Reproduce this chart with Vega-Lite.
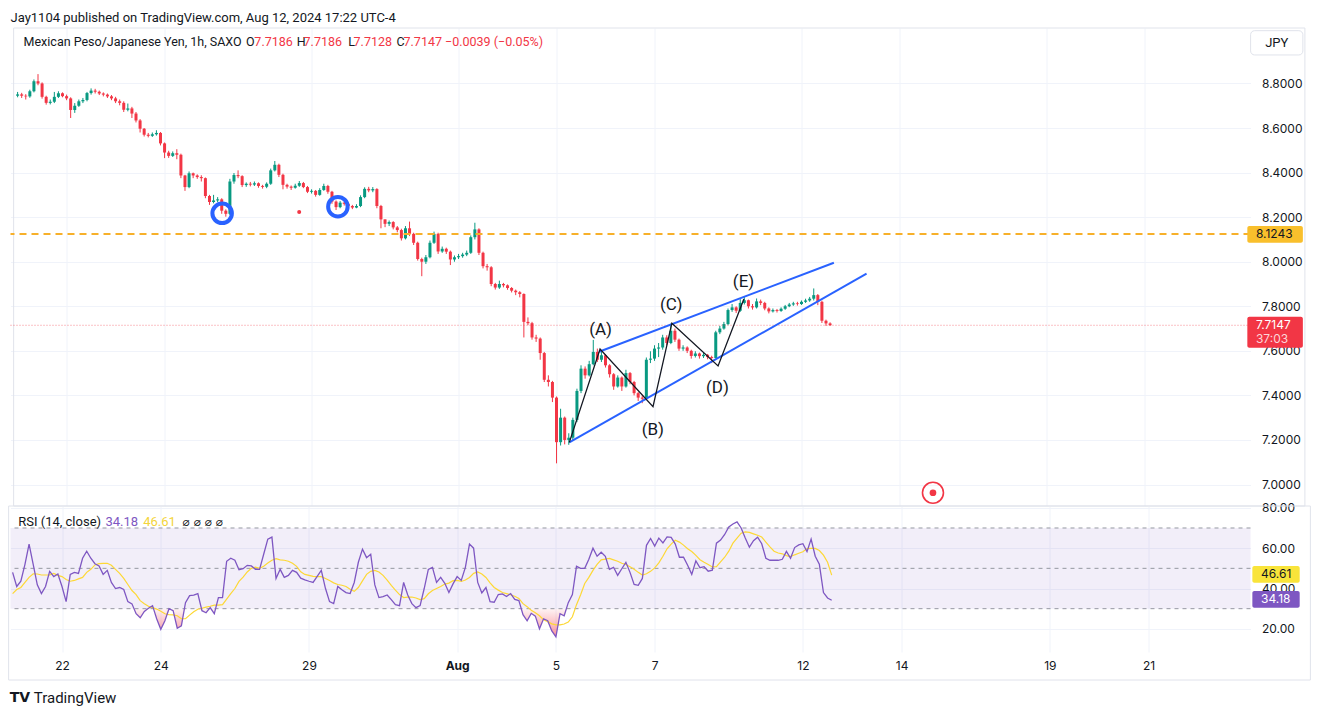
{
"$schema": "https://vega.github.io/schema/vega-lite/v6.json",
"background": "#ffffff",
"padding": {"left": 7.5, "top": 11, "right": 0, "bottom": 0},
"title": {"text": "Jay1104 published on TradingView.com, Aug 12, 2024 17:22 UTC-4", "anchor": "start", "frame": "group", "fontSize": 13, "fontWeight": "normal", "font": "Roboto", "color": "#131722", "offset": 3},
"spacing": 0,
"bounds": "flush",
"config": {
 "view": {"stroke": null},
 "text": {"font": "Roboto"},
 "axis": {"labelFont": "Inter", "labelFontSize": 12, "labelColor": "#131722", "gridColor": "#f0f3fa", "gridWidth": 1, "domain": false, "ticks": false, "labelOverlap": false, "labelFlush": false}
},
"datasets": {
"c": [
{"k":0,"o":8.745,"h":8.762,"l":8.738,"c":8.751,"r":48,"m":37.5},
{"k":1,"o":8.751,"h":8.758,"l":8.735,"c":8.745,"r":41,"m":39.5},
{"k":2,"o":8.745,"h":8.752,"l":8.728,"c":8.742,"r":43.6,"m":40.5},
{"k":3,"o":8.742,"h":8.772,"l":8.736,"c":8.765,"r":52,"m":43},
{"k":4,"o":8.765,"h":8.818,"l":8.76,"c":8.81,"r":62,"m":45.5},
{"k":5,"o":8.81,"h":8.842,"l":8.792,"c":8.8,"r":52,"m":47.3},
{"k":6,"o":8.8,"h":8.805,"l":8.732,"c":8.74,"r":41.8,"m":47.2},
{"k":7,"o":8.74,"h":8.745,"l":8.705,"c":8.713,"r":37.5,"m":46.7},
{"k":8,"o":8.713,"h":8.728,"l":8.706,"c":8.718,"r":41,"m":46.7},
{"k":9,"o":8.718,"h":8.762,"l":8.712,"c":8.74,"r":48.5,"m":46.8},
{"k":10,"o":8.74,"h":8.765,"l":8.735,"c":8.756,"r":45.9,"m":47.5},
{"k":11,"o":8.756,"h":8.76,"l":8.738,"c":8.743,"r":47.2,"m":46.5},
{"k":12,"o":8.743,"h":8.75,"l":8.725,"c":8.733,"r":41,"m":45.9},
{"k":13,"o":8.733,"h":8.738,"l":8.645,"c":8.681,"r":33.5,"m":44.5},
{"k":14,"o":8.681,"h":8.712,"l":8.668,"c":8.7,"r":47,"m":43.6},
{"k":15,"o":8.7,"h":8.728,"l":8.695,"c":8.72,"r":48,"m":44},
{"k":16,"o":8.72,"h":8.735,"l":8.712,"c":8.726,"r":47.5,"m":44.8},
{"k":17,"o":8.726,"h":8.762,"l":8.72,"c":8.757,"r":55,"m":45.5},
{"k":18,"o":8.757,"h":8.778,"l":8.75,"c":8.768,"r":58.5,"m":48},
{"k":19,"o":8.768,"h":8.776,"l":8.755,"c":8.763,"r":55,"m":49.5},
{"k":20,"o":8.763,"h":8.768,"l":8.748,"c":8.755,"r":52.3,"m":51.7},
{"k":21,"o":8.755,"h":8.76,"l":8.742,"c":8.75,"r":51.2,"m":52.3},
{"k":22,"o":8.75,"h":8.755,"l":8.735,"c":8.742,"r":47,"m":52.5},
{"k":23,"o":8.742,"h":8.748,"l":8.725,"c":8.733,"r":49,"m":52.5},
{"k":24,"o":8.733,"h":8.74,"l":8.712,"c":8.72,"r":43,"m":51.5},
{"k":25,"o":8.72,"h":8.728,"l":8.702,"c":8.713,"r":40,"m":49.5},
{"k":26,"o":8.713,"h":8.72,"l":8.672,"c":8.682,"r":40.5,"m":47.5},
{"k":27,"o":8.682,"h":8.71,"l":8.675,"c":8.688,"r":39.5,"m":45},
{"k":28,"o":8.688,"h":8.695,"l":8.645,"c":8.665,"r":33.5,"m":42},
{"k":29,"o":8.665,"h":8.672,"l":8.625,"c":8.634,"r":32.4,"m":39},
{"k":30,"o":8.634,"h":8.64,"l":8.58,"c":8.597,"r":27.5,"m":37},
{"k":31,"o":8.597,"h":8.6,"l":8.562,"c":8.57,"r":25.5,"m":34},
{"k":32,"o":8.57,"h":8.578,"l":8.558,"c":8.565,"r":28.6,"m":32.5},
{"k":33,"o":8.565,"h":8.58,"l":8.56,"c":8.572,"r":30.2,"m":31.2},
{"k":34,"o":8.572,"h":8.59,"l":8.566,"c":8.578,"r":31.5,"m":30.5},
{"k":35,"o":8.578,"h":8.582,"l":8.522,"c":8.531,"r":25,"m":29.8},
{"k":36,"o":8.531,"h":8.535,"l":8.465,"c":8.49,"r":19.8,"m":28.7},
{"k":37,"o":8.49,"h":8.498,"l":8.466,"c":8.475,"r":24,"m":27.5},
{"k":38,"o":8.475,"h":8.495,"l":8.47,"c":8.487,"r":30,"m":27},
{"k":39,"o":8.487,"h":8.505,"l":8.46,"c":8.48,"r":29,"m":26.9},
{"k":40,"o":8.48,"h":8.485,"l":8.375,"c":8.387,"r":20.3,"m":26.5},
{"k":41,"o":8.387,"h":8.39,"l":8.318,"c":8.335,"r":21.5,"m":25},
{"k":42,"o":8.335,"h":8.405,"l":8.33,"c":8.397,"r":33,"m":25},
{"k":43,"o":8.397,"h":8.4,"l":8.375,"c":8.387,"r":36.5,"m":26.8},
{"k":44,"o":8.387,"h":8.392,"l":8.372,"c":8.38,"r":36.7,"m":28.5},
{"k":45,"o":8.38,"h":8.388,"l":8.36,"c":8.375,"r":37.5,"m":29.7},
{"k":46,"o":8.375,"h":8.378,"l":8.285,"c":8.295,"r":29,"m":30.2},
{"k":47,"o":8.295,"h":8.3,"l":8.255,"c":8.268,"r":28,"m":30.8},
{"k":48,"o":8.268,"h":8.3,"l":8.262,"c":8.275,"r":30.5,"m":31.2},
{"k":49,"o":8.275,"h":8.29,"l":8.268,"c":8.28,"r":27.5,"m":31.8},
{"k":50,"o":8.28,"h":8.285,"l":8.215,"c":8.229,"r":35.5,"m":31.8},
{"k":51,"o":8.229,"h":8.235,"l":8.202,"c":8.215,"r":35.5,"m":32},
{"k":52,"o":8.215,"h":8.372,"l":8.21,"c":8.36,"r":53.5,"m":34.7},
{"k":53,"o":8.36,"h":8.398,"l":8.35,"c":8.389,"r":55,"m":37.5},
{"k":54,"o":8.389,"h":8.41,"l":8.375,"c":8.384,"r":54,"m":40},
{"k":55,"o":8.384,"h":8.388,"l":8.335,"c":8.344,"r":49.3,"m":43.5},
{"k":56,"o":8.344,"h":8.356,"l":8.336,"c":8.35,"r":49.8,"m":45.6},
{"k":57,"o":8.35,"h":8.358,"l":8.338,"c":8.346,"r":51.5,"m":48.2},
{"k":58,"o":8.346,"h":8.36,"l":8.34,"c":8.352,"r":51.2,"m":50},
{"k":59,"o":8.352,"h":8.356,"l":8.332,"c":8.34,"r":49.5,"m":50.6},
{"k":60,"o":8.34,"h":8.345,"l":8.328,"c":8.336,"r":49.5,"m":50},
{"k":61,"o":8.336,"h":8.356,"l":8.33,"c":8.35,"r":57,"m":51},
{"k":62,"o":8.35,"h":8.418,"l":8.345,"c":8.41,"r":64.5,"m":52.6},
{"k":63,"o":8.41,"h":8.452,"l":8.405,"c":8.435,"r":65.5,"m":54},
{"k":64,"o":8.435,"h":8.44,"l":8.38,"c":8.39,"r":45,"m":54.8},
{"k":65,"o":8.39,"h":8.395,"l":8.325,"c":8.345,"r":49.5,"m":54.2},
{"k":66,"o":8.345,"h":8.35,"l":8.328,"c":8.337,"r":45.5,"m":54},
{"k":67,"o":8.337,"h":8.342,"l":8.322,"c":8.332,"r":46.5,"m":53.5},
{"k":68,"o":8.332,"h":8.35,"l":8.328,"c":8.341,"r":49,"m":52.5},
{"k":69,"o":8.341,"h":8.362,"l":8.336,"c":8.353,"r":48,"m":51},
{"k":70,"o":8.353,"h":8.358,"l":8.33,"c":8.335,"r":45.1,"m":48.3},
{"k":71,"o":8.335,"h":8.34,"l":8.308,"c":8.314,"r":44.3,"m":47},
{"k":72,"o":8.314,"h":8.325,"l":8.306,"c":8.318,"r":43.6,"m":46.5},
{"k":73,"o":8.318,"h":8.322,"l":8.292,"c":8.3,"r":43,"m":46},
{"k":74,"o":8.3,"h":8.33,"l":8.296,"c":8.322,"r":46,"m":45.9},
{"k":75,"o":8.322,"h":8.35,"l":8.318,"c":8.34,"r":49,"m":45.9},
{"k":76,"o":8.34,"h":8.345,"l":8.305,"c":8.314,"r":40.1,"m":45},
{"k":77,"o":8.314,"h":8.318,"l":8.26,"c":8.27,"r":33.5,"m":44},
{"k":78,"o":8.27,"h":8.275,"l":8.232,"c":8.245,"r":32.5,"m":42.8},
{"k":79,"o":8.245,"h":8.272,"l":8.24,"c":8.265,"r":41,"m":42},
{"k":80,"o":8.265,"h":8.27,"l":8.252,"c":8.26,"r":39.4,"m":41.6},
{"k":81,"o":8.26,"h":8.265,"l":8.242,"c":8.25,"r":38,"m":41},
{"k":82,"o":8.25,"h":8.255,"l":8.236,"c":8.243,"r":37.5,"m":39.6},
{"k":83,"o":8.243,"h":8.258,"l":8.24,"c":8.25,"r":43,"m":38.6},
{"k":84,"o":8.25,"h":8.298,"l":8.245,"c":8.29,"r":53,"m":40.5},
{"k":85,"o":8.29,"h":8.334,"l":8.285,"c":8.327,"r":59.5,"m":43.8},
{"k":86,"o":8.327,"h":8.336,"l":8.312,"c":8.32,"r":55.3,"m":47},
{"k":87,"o":8.32,"h":8.335,"l":8.312,"c":8.326,"r":57,"m":48.5},
{"k":88,"o":8.326,"h":8.33,"l":8.24,"c":8.25,"r":41.8,"m":49},
{"k":89,"o":8.25,"h":8.255,"l":8.15,"c":8.19,"r":35.5,"m":48.2},
{"k":90,"o":8.19,"h":8.19,"l":8.155,"c":8.17,"r":36,"m":46.5},
{"k":91,"o":8.17,"h":8.185,"l":8.16,"c":8.178,"r":36.8,"m":44.2},
{"k":92,"o":8.178,"h":8.182,"l":8.145,"c":8.154,"r":34.5,"m":41.5},
{"k":93,"o":8.154,"h":8.16,"l":8.132,"c":8.142,"r":32,"m":39.2},
{"k":94,"o":8.142,"h":8.148,"l":8.095,"c":8.105,"r":31.5,"m":37},
{"k":95,"o":8.105,"h":8.16,"l":8.1,"c":8.15,"r":43,"m":35.5},
{"k":96,"o":8.15,"h":8.18,"l":8.115,"c":8.125,"r":36.8,"m":35.7},
{"k":97,"o":8.125,"h":8.13,"l":8.075,"c":8.085,"r":32.5,"m":35.8},
{"k":98,"o":8.085,"h":8.09,"l":8.005,"c":8.012,"r":30.5,"m":35.3},
{"k":99,"o":8.012,"h":8.018,"l":7.935,"c":8.0,"r":31.5,"m":34.5},
{"k":100,"o":8.0,"h":8.03,"l":7.99,"c":8.02,"r":40,"m":35},
{"k":101,"o":8.02,"h":8.095,"l":8.015,"c":8.085,"r":49.5,"m":37.4},
{"k":102,"o":8.085,"h":8.135,"l":8.08,"c":8.125,"r":50.5,"m":39},
{"k":103,"o":8.125,"h":8.13,"l":8.035,"c":8.046,"r":43,"m":40},
{"k":104,"o":8.046,"h":8.068,"l":8.04,"c":8.058,"r":45.5,"m":41},
{"k":105,"o":8.058,"h":8.063,"l":8.035,"c":8.045,"r":42.6,"m":42.2},
{"k":106,"o":8.045,"h":8.05,"l":7.985,"c":8.01,"r":38,"m":42.7},
{"k":107,"o":8.01,"h":8.028,"l":8.0,"c":8.02,"r":42.3,"m":43.9},
{"k":108,"o":8.02,"h":8.035,"l":8.012,"c":8.025,"r":45.9,"m":44},
{"k":109,"o":8.025,"h":8.04,"l":8.018,"c":8.032,"r":44,"m":43.5},
{"k":110,"o":8.032,"h":8.05,"l":8.025,"c":8.04,"r":50.5,"m":44.2},
{"k":111,"o":8.04,"h":8.118,"l":8.035,"c":8.11,"r":62,"m":45.5},
{"k":112,"o":8.11,"h":8.175,"l":8.1,"c":8.145,"r":60,"m":47.5},
{"k":113,"o":8.145,"h":8.15,"l":8.03,"c":8.04,"r":43,"m":48.2},
{"k":114,"o":8.04,"h":8.045,"l":7.97,"c":7.98,"r":37.8,"m":47.2},
{"k":115,"o":7.98,"h":7.99,"l":7.96,"c":7.975,"r":40.5,"m":45.5},
{"k":116,"o":7.975,"h":7.98,"l":7.89,"c":7.9,"r":33.5,"m":42.8},
{"k":117,"o":7.9,"h":7.905,"l":7.875,"c":7.884,"r":33.2,"m":40.5},
{"k":118,"o":7.884,"h":7.915,"l":7.878,"c":7.9,"r":37,"m":39.2},
{"k":119,"o":7.9,"h":7.905,"l":7.885,"c":7.894,"r":37.3,"m":38},
{"k":120,"o":7.894,"h":7.898,"l":7.874,"c":7.882,"r":36,"m":37.5},
{"k":121,"o":7.882,"h":7.886,"l":7.862,"c":7.87,"r":37.5,"m":36.9},
{"k":122,"o":7.87,"h":7.875,"l":7.85,"c":7.863,"r":34.6,"m":36.2},
{"k":123,"o":7.863,"h":7.868,"l":7.84,"c":7.855,"r":34,"m":35.1},
{"k":124,"o":7.855,"h":7.858,"l":7.66,"c":7.73,"r":27,"m":32.5},
{"k":125,"o":7.73,"h":7.75,"l":7.715,"c":7.724,"r":24,"m":31},
{"k":126,"o":7.724,"h":7.73,"l":7.65,"c":7.66,"r":27.7,"m":29.2},
{"k":127,"o":7.66,"h":7.672,"l":7.64,"c":7.655,"r":26.3,"m":28},
{"k":128,"o":7.655,"h":7.66,"l":7.56,"c":7.59,"r":20,"m":26.5},
{"k":129,"o":7.59,"h":7.595,"l":7.46,"c":7.47,"r":25,"m":24.5},
{"k":130,"o":7.47,"h":7.49,"l":7.44,"c":7.46,"r":24,"m":23.6},
{"k":131,"o":7.46,"h":7.465,"l":7.37,"c":7.39,"r":19,"m":22.5},
{"k":132,"o":7.39,"h":7.395,"l":7.095,"c":7.19,"r":16,"m":22},
{"k":133,"o":7.19,"h":7.34,"l":7.175,"c":7.3,"r":27.5,"m":22},
{"k":134,"o":7.3,"h":7.305,"l":7.18,"c":7.2,"r":26.5,"m":22.4},
{"k":135,"o":7.2,"h":7.23,"l":7.178,"c":7.21,"r":33,"m":23.4},
{"k":136,"o":7.21,"h":7.3,"l":7.2,"c":7.29,"r":37,"m":26},
{"k":137,"o":7.29,"h":7.43,"l":7.28,"c":7.42,"r":51,"m":32},
{"k":138,"o":7.42,"h":7.535,"l":7.41,"c":7.52,"r":50,"m":36.9},
{"k":139,"o":7.52,"h":7.53,"l":7.475,"c":7.49,"r":50,"m":42.5},
{"k":140,"o":7.49,"h":7.555,"l":7.485,"c":7.54,"r":54.5,"m":45.5},
{"k":141,"o":7.54,"h":7.649,"l":7.535,"c":7.595,"r":60,"m":49},
{"k":142,"o":7.595,"h":7.61,"l":7.55,"c":7.56,"r":56,"m":52},
{"k":143,"o":7.56,"h":7.598,"l":7.55,"c":7.58,"r":58,"m":54.2},
{"k":144,"o":7.58,"h":7.585,"l":7.525,"c":7.535,"r":56,"m":54.6},
{"k":145,"o":7.535,"h":7.54,"l":7.48,"c":7.495,"r":49.5,"m":54.9},
{"k":146,"o":7.495,"h":7.5,"l":7.425,"c":7.44,"r":50.5,"m":54.2},
{"k":147,"o":7.44,"h":7.49,"l":7.435,"c":7.48,"r":46.5,"m":53.5},
{"k":148,"o":7.48,"h":7.485,"l":7.42,"c":7.44,"r":49.8,"m":52.5},
{"k":149,"o":7.44,"h":7.515,"l":7.435,"c":7.5,"r":53,"m":51.9},
{"k":150,"o":7.5,"h":7.505,"l":7.45,"c":7.46,"r":48,"m":50.8},
{"k":151,"o":7.46,"h":7.465,"l":7.4,"c":7.41,"r":42,"m":49.5},
{"k":152,"o":7.41,"h":7.415,"l":7.375,"c":7.39,"r":41.6,"m":48},
{"k":153,"o":7.39,"h":7.4,"l":7.365,"c":7.385,"r":45,"m":46.7},
{"k":154,"o":7.385,"h":7.57,"l":7.38,"c":7.56,"r":61.4,"m":47.3},
{"k":155,"o":7.56,"h":7.598,"l":7.545,"c":7.565,"r":64.8,"m":48.5},
{"k":156,"o":7.565,"h":7.625,"l":7.555,"c":7.61,"r":61,"m":50.2},
{"k":157,"o":7.61,"h":7.635,"l":7.572,"c":7.615,"r":65,"m":52.7},
{"k":158,"o":7.615,"h":7.672,"l":7.605,"c":7.66,"r":62.6,"m":56},
{"k":159,"o":7.66,"h":7.67,"l":7.625,"c":7.635,"r":65.6,"m":59.7},
{"k":160,"o":7.635,"h":7.722,"l":7.63,"c":7.69,"r":65.3,"m":62},
{"k":161,"o":7.69,"h":7.7,"l":7.64,"c":7.65,"r":62,"m":63.9},
{"k":162,"o":7.65,"h":7.655,"l":7.6,"c":7.61,"r":55.5,"m":63},
{"k":163,"o":7.61,"h":7.625,"l":7.6,"c":7.615,"r":55.5,"m":61.5},
{"k":164,"o":7.615,"h":7.62,"l":7.59,"c":7.6,"r":51.5,"m":59.7},
{"k":165,"o":7.6,"h":7.605,"l":7.565,"c":7.577,"r":47,"m":58.3},
{"k":166,"o":7.577,"h":7.598,"l":7.57,"c":7.588,"r":53.7,"m":56.4},
{"k":167,"o":7.588,"h":7.592,"l":7.565,"c":7.576,"r":50.3,"m":54.3},
{"k":168,"o":7.576,"h":7.59,"l":7.568,"c":7.582,"r":50.8,"m":53},
{"k":169,"o":7.582,"h":7.586,"l":7.562,"c":7.572,"r":48.6,"m":51.9},
{"k":170,"o":7.572,"h":7.578,"l":7.545,"c":7.568,"r":49.1,"m":50.7},
{"k":171,"o":7.568,"h":7.69,"l":7.565,"c":7.683,"r":62.5,"m":50.8},
{"k":172,"o":7.683,"h":7.712,"l":7.675,"c":7.7,"r":64,"m":53.2},
{"k":173,"o":7.7,"h":7.73,"l":7.695,"c":7.72,"r":66.8,"m":55.5},
{"k":174,"o":7.72,"h":7.79,"l":7.715,"c":7.783,"r":70.5,"m":58.5},
{"k":175,"o":7.783,"h":7.81,"l":7.775,"c":7.795,"r":72,"m":62.5},
{"k":176,"o":7.795,"h":7.8,"l":7.77,"c":7.78,"r":73,"m":65},
{"k":177,"o":7.78,"h":7.832,"l":7.775,"c":7.815,"r":70,"m":67.4},
{"k":178,"o":7.815,"h":7.842,"l":7.808,"c":7.827,"r":65,"m":68.1},
{"k":179,"o":7.827,"h":7.83,"l":7.79,"c":7.8,"r":60.5,"m":67.8},
{"k":180,"o":7.8,"h":7.81,"l":7.785,"c":7.795,"r":63.7,"m":67.1},
{"k":181,"o":7.795,"h":7.835,"l":7.79,"c":7.822,"r":65.4,"m":66.4},
{"k":182,"o":7.822,"h":7.83,"l":7.805,"c":7.815,"r":62.2,"m":65.5},
{"k":183,"o":7.815,"h":7.82,"l":7.782,"c":7.79,"r":55,"m":63},
{"k":184,"o":7.79,"h":7.795,"l":7.768,"c":7.777,"r":54,"m":60.6},
{"k":185,"o":7.777,"h":7.79,"l":7.772,"c":7.783,"r":54,"m":58.5},
{"k":186,"o":7.783,"h":7.788,"l":7.772,"c":7.779,"r":54,"m":57.6},
{"k":187,"o":7.779,"h":7.795,"l":7.775,"c":7.789,"r":54.5,"m":57.2},
{"k":188,"o":7.789,"h":7.806,"l":7.784,"c":7.8,"r":58.4,"m":56.3},
{"k":189,"o":7.8,"h":7.815,"l":7.796,"c":7.808,"r":55,"m":55.8},
{"k":190,"o":7.808,"h":7.82,"l":7.802,"c":7.813,"r":60.3,"m":56.7},
{"k":191,"o":7.813,"h":7.82,"l":7.803,"c":7.81,"r":61.6,"m":57.5},
{"k":192,"o":7.81,"h":7.826,"l":7.806,"c":7.82,"r":62.2,"m":58.2},
{"k":193,"o":7.82,"h":7.834,"l":7.815,"c":7.826,"r":58.3,"m":59.8},
{"k":194,"o":7.826,"h":7.842,"l":7.82,"c":7.834,"r":64.5,"m":59.9},
{"k":195,"o":7.834,"h":7.88,"l":7.826,"c":7.85,"r":56,"m":59.9},
{"k":196,"o":7.85,"h":7.855,"l":7.805,"c":7.82,"r":52,"m":58.8},
{"k":197,"o":7.82,"h":7.825,"l":7.725,"c":7.735,"r":38,"m":56.5},
{"k":198,"o":7.735,"h":7.74,"l":7.712,"c":7.723,"r":35.3,"m":53},
{"k":199,"o":7.723,"h":7.728,"l":7.7128,"c":7.7147,"r":34.18,"m":46.61}
]
},
"vconcat": [
{
 "width": 1240, "height": 478,
 "data": {"name": "c"},
 "layer": [
  {"mark": {"type": "rule", "strokeWidth": 1},
   "encoding": {
    "x": {"field": "k", "type": "quantitative", "scale": {"domain": [-0.513, 300.75], "nice": false, "zero": false},
          "axis": {"title": null, "labels": false, "grid": true, "minExtent": 0, "maxExtent": 0, "labelPadding": 0, "values": [12, 36, 72, 108, 132, 156, 192, 216, 252, 276]}},
    "y": {"field": "l", "type": "quantitative", "scale": {"domain": [6.9035, 9.049], "nice": false, "zero": false},
          "axis": {"title": null, "orient": "right", "grid": true, "values": [7.0, 7.2, 7.4, 7.6, 7.8, 8.0, 8.2, 8.4, 8.6, 8.8], "format": ".4f", "labelPadding": 11}},
    "y2": {"field": "h"},
    "color": {"condition": {"test": "datum.c >= datum.o", "value": "#089981"}, "value": "#f23645"}
   }},
  {"mark": {"type": "bar", "size": 3},
   "encoding": {
    "x": {"field": "k", "type": "quantitative"},
    "y": {"field": "o", "type": "quantitative"},
    "y2": {"field": "c"},
    "color": {"condition": {"test": "datum.c >= datum.o", "value": "#089981"}, "value": "#f23645"}
   }},
  {"data": {"values": [{}]}, "mark": {"type": "rect", "fillOpacity": 0, "stroke": "#e0e3eb", "strokeWidth": 1},
   "encoding": {"x": {"datum": -0.97, "type": "quantitative"}, "x2": {"datum": 315.3}, "y": {"datum": 9.049, "type": "quantitative"}, "y2": {"datum": 6.9035}}},
  {"data": {"values": [{}]}, "mark": {"type": "rule", "color": "#f7b02a", "strokeWidth": 2, "strokeDash": [7, 5]},
   "encoding": {"y": {"datum": 8.1243, "type": "quantitative"}}},
  {"data": {"values": [{}]}, "mark": {"type": "rule", "color": "#f23645", "strokeWidth": 1, "strokeDash": [1, 2], "opacity": 0.6},
   "encoding": {"y": {"datum": 7.7147, "type": "quantitative"}}},
  {"data": {"values": [{"g": "lo", "k": 135.13, "p": 7.189}, {"g": "lo", "k": 207.94, "p": 7.946}, {"g": "up", "k": 142.42, "p": 7.596}, {"g": "up", "k": 199.93, "p": 7.9955}]},
   "mark": {"type": "line", "color": "#2962ff", "strokeWidth": 2},
   "encoding": {"x": {"field": "k", "type": "quantitative"}, "y": {"field": "p", "type": "quantitative"}, "detail": {"field": "g"}}},
  {"data": {"values": [{"i": 0, "k": 135.13, "p": 7.189}, {"i": 1, "k": 142.66, "p": 7.608}, {"i": 2, "k": 155.63, "p": 7.349}, {"i": 3, "k": 160.25, "p": 7.724}, {"i": 4, "k": 171.57, "p": 7.532}, {"i": 5, "k": 177.89, "p": 7.833}]},
   "mark": {"type": "line", "color": "#131722", "strokeWidth": 1.3},
   "encoding": {"x": {"field": "k", "type": "quantitative"}, "y": {"field": "p", "type": "quantitative"}, "order": {"field": "i"}}},
  {"data": {"values": [{"k": 142.8, "p": 7.693, "s": "(A)"}, {"k": 155.6, "p": 7.245, "s": "(B)"}, {"k": 160.1, "p": 7.806, "s": "(C)"}, {"k": 171.4, "p": 7.432, "s": "(D)"}, {"k": 177.8, "p": 7.91, "s": "(E)"}]},
   "mark": {"type": "text", "fontSize": 17, "color": "#131722", "align": "center", "baseline": "middle"},
   "encoding": {"x": {"field": "k", "type": "quantitative"}, "y": {"field": "p", "type": "quantitative"}, "text": {"field": "s"}}},
  {"data": {"values": [{"k": 50.1, "p": 8.217}, {"k": 78.45, "p": 8.247}]},
   "mark": {"type": "point", "shape": "circle", "filled": false, "stroke": "#2962ff", "strokeWidth": 4, "size": 380, "opacity": 1},
   "encoding": {"x": {"field": "k", "type": "quantitative"}, "y": {"field": "p", "type": "quantitative"}}},
  {"data": {"values": [{"k": 68.97, "p": 8.223}]},
   "mark": {"type": "point", "shape": "circle", "filled": true, "color": "#f23645", "size": 16, "opacity": 1},
   "encoding": {"x": {"field": "k", "type": "quantitative"}, "y": {"field": "p", "type": "quantitative"}}},
  {"data": {"values": [{"k": 224.2, "p": 6.963}]},
   "mark": {"type": "point", "shape": "circle", "filled": false, "stroke": "#f23645", "strokeWidth": 1.6, "size": 440, "opacity": 1},
   "encoding": {"x": {"field": "k", "type": "quantitative"}, "y": {"field": "p", "type": "quantitative"}}},
  {"data": {"values": [{"k": 224.2, "p": 6.963}]},
   "mark": {"type": "point", "shape": "circle", "filled": true, "color": "#f23645", "size": 45, "opacity": 1},
   "encoding": {"x": {"field": "k", "type": "quantitative"}, "y": {"field": "p", "type": "quantitative"}}},
  {"data": {"values": [{"k": 1.46, "s": "Mexican Peso/Japanese Yen, 1h, SAXO"}, {"k": 55.93, "s": "O"}, {"k": 68.36, "s": "H"}, {"k": 80.97, "s": "L"}, {"k": 92.83, "s": "C"}]},
   "mark": {"type": "text", "fontSize": 12.5, "color": "#131722", "align": "left", "baseline": "middle"},
   "encoding": {"x": {"field": "k", "type": "quantitative"}, "y": {"datum": 8.986, "type": "quantitative"}, "text": {"field": "s"}}},
  {"data": {"values": [{"k": 57.99, "s": "7.7186"}, {"k": 70.04, "s": "7.7186"}, {"k": 82.29, "s": "7.7128"}, {"k": 94.53, "s": "7.7147 −0.0039 (−0.05%)"}]},
   "mark": {"type": "text", "fontSize": 12.5, "color": "#f23645", "align": "left", "baseline": "middle"},
   "encoding": {"x": {"field": "k", "type": "quantitative"}, "y": {"datum": 8.986, "type": "quantitative"}, "text": {"field": "s"}}},
  {"data": {"values": [{}]}, "mark": {"type": "rect", "fill": "#ffffff", "stroke": "#e0e3eb", "strokeWidth": 1, "cornerRadius": 4},
   "encoding": {"x": {"datum": 302.0, "type": "quantitative"}, "x2": {"datum": 314.8}, "y": {"datum": 9.037, "type": "quantitative"}, "y2": {"datum": 8.928}}},
  {"data": {"values": [{"s": "JPY"}]}, "mark": {"type": "text", "fontSize": 13, "color": "#131722", "align": "center", "baseline": "middle"},
   "encoding": {"x": {"datum": 308.4, "type": "quantitative"}, "y": {"datum": 8.982, "type": "quantitative"}, "text": {"field": "s"}}},
  {"data": {"values": [{}]}, "mark": {"type": "rect", "fill": "#f9bf2c", "cornerRadius": 2},
   "encoding": {"x": {"datum": 301.2, "type": "quantitative"}, "x2": {"datum": 314.8}, "y": {"datum": 8.160, "type": "quantitative"}, "y2": {"datum": 8.085}}},
  {"data": {"values": [{"s": "8.1243"}]}, "mark": {"type": "text", "fontSize": 12, "font": "Inter", "color": "#131722", "align": "left", "baseline": "middle"},
   "encoding": {"x": {"datum": 303.3, "type": "quantitative"}, "y": {"datum": 8.1243, "type": "quantitative"}, "text": {"field": "s"}}},
  {"data": {"values": [{}]}, "mark": {"type": "rect", "fill": "#f23645", "cornerRadius": 2},
   "encoding": {"x": {"datum": 301.2, "type": "quantitative"}, "x2": {"datum": 314.8}, "y": {"datum": 7.753, "type": "quantitative"}, "y2": {"datum": 7.614}}},
  {"data": {"values": [{"s": "7.7147"}]}, "mark": {"type": "text", "fontSize": 12, "font": "Inter", "color": "#ffffff", "align": "left", "baseline": "middle"},
   "encoding": {"x": {"datum": 303.3, "type": "quantitative"}, "y": {"datum": 7.716, "type": "quantitative"}, "text": {"field": "s"}}},
  {"data": {"values": [{"s": "37:03"}]}, "mark": {"type": "text", "fontSize": 12, "font": "Inter", "color": "#fcd5d8", "align": "left", "baseline": "middle"},
   "encoding": {"x": {"datum": 303.3, "type": "quantitative"}, "y": {"datum": 7.653, "type": "quantitative"}, "text": {"field": "s"}}}
 ]
},
{
 "width": 1240, "height": 146,
 "data": {"name": "c"},
 "layer": [
  {"data": {"values": [{}]}, "mark": {"type": "rect", "fill": "#7e57c2", "fillOpacity": 0.1},
   "encoding": {
    "x": {"datum": -0.513, "type": "quantitative", "scale": {"domain": [-0.513, 300.75], "nice": false, "zero": false},
          "axis": {"title": null, "grid": true, "values": [12, 36, 72, 108, 132, 156, 192, 216, 252, 276], "labelPadding": 8,
                   "labelExpr": "datum.value==12?'22':datum.value==36?'24':datum.value==72?'29':datum.value==108?'Aug':datum.value==132?'5':datum.value==156?'7':datum.value==192?'12':datum.value==216?'14':datum.value==252?'19':'21'",
                   "labelFontWeight": {"condition": {"test": "datum.value==108", "value": "bold"}, "value": "normal"}}},
    "x2": {"datum": 300.75},
    "y": {"datum": 30, "type": "quantitative", "scale": {"domain": [8.53, 80.9], "nice": false, "zero": false},
          "axis": {"title": null, "orient": "right", "grid": true, "values": [20, 40, 60, 80], "format": ".2f", "labelPadding": 11}},
    "y2": {"datum": 70}
   }},
  {"data": {"values": [{}]}, "mark": {"type": "rect", "fillOpacity": 0, "stroke": "#e0e3eb", "strokeWidth": 1},
   "encoding": {"x": {"datum": -0.97, "type": "quantitative"}, "x2": {"datum": 315.3}, "y": {"datum": 80.9, "type": "quantitative"}, "y2": {"datum": -5.36}}},
  {"mark": {"type": "area", "color": {"gradient": "linear", "x1": 0, "y1": 0, "x2": 0, "y2": 1, "stops": [{"offset": 0, "color": "rgba(242,54,69,0)"}, {"offset": 0.752, "color": "rgba(242,54,69,0)"}, {"offset": 0.756, "color": "rgba(242,54,69,0.06)"}, {"offset": 1, "color": "rgba(242,54,69,0.55)"}]}},
   "encoding": {"x": {"field": "k", "type": "quantitative"}, "y": {"field": "r", "type": "quantitative"}, "y2": {"datum": 30}}},
  {"data": {"values": [{"v": 30}, {"v": 50}, {"v": 70}]}, "mark": {"type": "rule", "color": "#9598a1", "strokeDash": [4, 4], "strokeWidth": 1},
   "encoding": {"y": {"field": "v", "type": "quantitative"}}},
  {"mark": {"type": "line", "color": "#fdd835", "strokeWidth": 1.2},
   "encoding": {"x": {"field": "k", "type": "quantitative"}, "y": {"field": "m", "type": "quantitative"}}},
  {"mark": {"type": "line", "color": "#7e57c2", "strokeWidth": 1.3},
   "encoding": {"x": {"field": "k", "type": "quantitative"}, "y": {"field": "r", "type": "quantitative"}}},
  {"data": {"values": [{"s": "RSI (14, close)"}]}, "mark": {"type": "text", "fontSize": 13, "color": "#131722", "align": "left", "baseline": "middle"},
   "encoding": {"x": {"datum": 1.36, "type": "quantitative"}, "y": {"datum": 73.14, "type": "quantitative"}, "text": {"field": "s"}}},
  {"data": {"values": [{"s": "34.18"}]}, "mark": {"type": "text", "fontSize": 13, "color": "#7e57c2", "align": "left", "baseline": "middle"},
   "encoding": {"x": {"datum": 22.57, "type": "quantitative"}, "y": {"datum": 73.14, "type": "quantitative"}, "text": {"field": "s"}}},
  {"data": {"values": [{"s": "46.61"}]}, "mark": {"type": "text", "fontSize": 13, "color": "#f3d43a", "align": "left", "baseline": "middle"},
   "encoding": {"x": {"datum": 31.73, "type": "quantitative"}, "y": {"datum": 73.14, "type": "quantitative"}, "text": {"field": "s"}}},
  {"data": {"values": [{"s": "⌀  ⌀  ⌀  ⌀"}]}, "mark": {"type": "text", "fontSize": 12, "font": "DejaVu Sans", "color": "#131722", "align": "left", "baseline": "middle"},
   "encoding": {"x": {"datum": 41.3, "type": "quantitative"}, "y": {"datum": 73.14, "type": "quantitative"}, "text": {"field": "s"}}},
  {"data": {"values": [{}]}, "mark": {"type": "rect", "fill": "#f9e43a", "cornerRadius": 2},
   "encoding": {"x": {"datum": 301.2, "type": "quantitative"}, "x2": {"datum": 312.7}, "y": {"datum": 51.17, "type": "quantitative"}, "y2": {"datum": 42.89}}},
  {"data": {"values": [{"s": "46.61"}]}, "mark": {"type": "text", "fontSize": 12, "font": "Inter", "color": "#131722", "align": "left", "baseline": "middle"},
   "encoding": {"x": {"datum": 303.3, "type": "quantitative"}, "y": {"datum": 47.0, "type": "quantitative"}, "text": {"field": "s"}}},
  {"data": {"values": [{}]}, "mark": {"type": "rect", "fill": "#7e57c2", "cornerRadius": 2},
   "encoding": {"x": {"datum": 301.2, "type": "quantitative"}, "x2": {"datum": 312.7}, "y": {"datum": 38.78, "type": "quantitative"}, "y2": {"datum": 30.5}}},
  {"data": {"values": [{"s": "34.18"}]}, "mark": {"type": "text", "fontSize": 12, "font": "Inter", "color": "#ffffff", "align": "left", "baseline": "middle"},
   "encoding": {"x": {"datum": 303.3, "type": "quantitative"}, "y": {"datum": 34.64, "type": "quantitative"}, "text": {"field": "s"}}},
  {"data": {"values": [{"s": "TV"}]}, "mark": {"type": "text", "fontSize": 14, "fontWeight": 900, "font": "DejaVu Sans", "color": "#131722", "align": "left", "baseline": "middle"},
   "encoding": {"x": {"datum": -0.68, "type": "quantitative"}, "y": {"datum": -14.3, "type": "quantitative"}, "text": {"field": "s"}}},
  {"data": {"values": [{"s": "TradingView"}]}, "mark": {"type": "text", "fontSize": 15, "color": "#131722", "align": "left", "baseline": "middle"},
   "encoding": {"x": {"datum": 5.15, "type": "quantitative"}, "y": {"datum": -14.3, "type": "quantitative"}, "text": {"field": "s"}}}
 ]
}
]
}
